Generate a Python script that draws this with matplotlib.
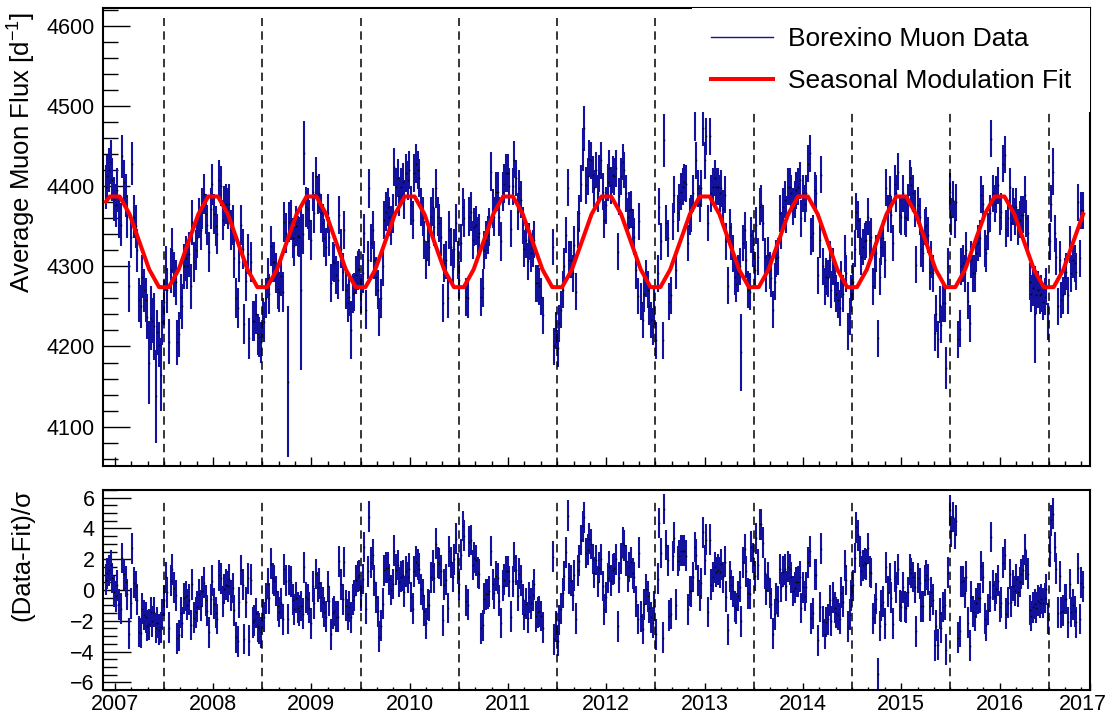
import numpy as np
import matplotlib
matplotlib.use("Agg")
import matplotlib.pyplot as plt
import matplotlib.transforms as mtransforms
from matplotlib.lines import Line2D
from matplotlib.ticker import MultipleLocator, FixedLocator

# ---------------- data ----------------
flux_2007_2008 = [
    4399, 4412, 4420, 4430, 4408, 4384, 4376, 4395, 4362, 4352,
    4437, 4405, 4388, 4362, 4275, 4337, 4428, 4362, 4350, 4320,
    4258, 4250, 4287, 4270, 4258, 4237, 4180, 4235, 4232, 4225,
    4138, 4218, 4202, 4165, 4230, 4255, 4297, 4270, 4206, 4295,
    4320, 4290, 4280, 4205, 4215, 4262, 4250, 4300, 4310, 4300,
    4315, 4275, 4355, 4305, 4320, 4335, 4360, 4345, 4372, 4390,
    4365, 4352, 4318, 4372, 4402, 4365, 4350, 4340, 4408, 4400,
    4358, 4375, 4378, 4372, 4378, 4345, 4352, 4310, 4260, 4248,
    4305, 4352, 4322, 4228, 4282, 4315, 4210, 4305, 4232, 4232,
    4240, 4215, 4212, 4205, 4235, 4230, 4260, 4285, 4265, 4325,
    4305, 4305, 4292, 4272, 4268, 4288, 4268, 4355, 4342, 4156,
    4355, 4358, 4335, 4325, 4350, 4338]
flux_2009_2010 = [
    4337, 4271, 4340, 4441, 4374, 4372, 4358, 4333, 4393, 4366,
    4412, 4389, 4391, 4366, 4354, 4335, 4324, 4366, 4337, 4279,
    4306, 4304, 4289, 4283, 4364, 4322, 4293, 4345, 4271, 4254,
    4262, 4221, 4266, 4268, 4289, 4295, 4297, 4266, 4291, 4341,
    4246, 4308, 4397, 4329, 4345, 4308, 4287, 4271, 4237, 4260,
    4300, 4358, 4368, 4374, 4362, 4351, 4366, 4424, 4399, 4410,
    4387, 4399, 4405, 4383, 4416, 4407, 4420, 4376, 4358, 4416,
    4428, 4420, 4410, 4374, 4362, 4333, 4308, 4331, 4324, 4362,
    4374, 4349, 4397, 4362, 4354, 4337, 4254, 4304, 4308, 4260,
    4345, 4324, 4297, 4322, 4354, 4308, 4283, 4329, 4374, 4360,
    4262, 4260, 4362, 4368, 4333, 4349, 4351, 4337, 4341, 4262,
    4273, 4320, 4333, 4339, 4349, 4418, 4372]
flux_2011_2012 = [
    4362, 4393, 4393, 4362, 4331, 4393, 4403, 4416, 4416, 4400,
    4347, 4400, 4433, 4410, 4368, 4397, 4383, 4351, 4322, 4333,
    4306, 4331, 4316, 4322, 4333, 4279, 4279, 4275, 4262, 4239,
    np.nan, np.nan, np.nan, np.nan, np.nan, 4324, 4200, 4220, 4198, 4229,
    4246, 4271, 4300, 4339, 4398, 4308, 4308, 4291, 4327, 4268,
    4346, 4366, 4403, 4446, 4472, 4401, 4412, 4434, 4432, 4414,
    4397, 4420, 4391, 4416, 4432, 4393, 4358, 4376, 4405, 4422,
    4401, 4414, 4412, 4422, 4318, 4387, 4412, 4430, 4420, 4391,
    4362, 4370, 4371, 4349, 4337, 4295, 4263, 4356, 4256, 4233,
    4266, 4285, 4271, 4250, 4233, 4225, 4250, 4208, 4291, 4374,
    4331, 4208, 4457, 4354, 4335, 4256, 4264, 4356, 4389, 4295,
    4366, 4380, 4393, 4399, 4405, 4403, 4329]
flux_2013_2014 = [
    4362, 4366, 4391, 4501, 4432, 4397, 4378, 4397, 4473, 4432,
    4462, 4354, 4462, 4391, 4399, 4410, 4399, 4399, 4391, 4397,
    4372, 4389, 4331, 4276, 4349, 4331, 4316, 4287, 4278, 4291,
    4300, 4193, 4329, 4345, 4308, 4271, 4268, 4339, 4322, 4295,
    4351, 4312, 4374, 4378, 4354, 4312, 4291, 4314, 4295, 4285,
    4246, 4281, 4310, 4312, 4366, 4345, 4374, 4383, 4364, 4399,
    4399, 4391, 4374, 4383, 4395, 4399, 4407, 4360, 4391, 4378,
    4391, 4428, 4441, 4337, 4341, 4395, 4391, 4289, 4333, 4414,
    4300, 4275, 4287, 4285, 4308, 4271, 4300, 4279, 4266, 4258,
    4248, 4283, 4266, 4316, 4291, 4219, 4237, 4266, 4281, 4322,
    4368, 4358, 4337, 4312, 4324, 4331, 4333, 4362, 4333, 4337,
    4275, 4295, 4316, 4210, 4287, 4324, 4335]
flux_2015_2016 = [
    4308, 4398, 4366, 4389, 4364, 4329, 4403, 4391, 4418, 4364,
    4362, 4391, 4362, 4360, 4380, 4410, 4401, 4391, 4372, 4302,
    4376, 4362, 4322, 4316, 4349, 4351, 4339, 4293, 4308, 4291,
    4217, 4241, 4209, 4252, 4227, 4254, 4254, 4173, 4300, 4393,
    4362, 4383, 4358, 4380, 4209, 4222, 4300, 4304, 4291, 4320,
    4257, 4229, 4308, 4291, 4291, 4316, 4329, 4335, 4389, 4378,
    4322, 4316, 4343, 4366, 4459, 4391, 4378, 4389, 4401, 4362,
    4368, 4428, 4439, 4347, 4360, 4399, 4354, 4374, 4362, 4374,
    4349, 4358, 4364, 4364, 4389, 4360, 4341, 4281, 4266, 4273,
    4240, 4264, 4271, 4264, 4266, 4256, 4262, 4275, 4231, 4331,
    4378, 4418, 4341, 4312, 4250, 4308, 4258, 4264, 4287, 4293,
    4264, 4327, 4291, 4308, 4304, 4293, 4380, 4310, 4370, 4370]

T_FIRST, T_LAST = 2006.908, 2016.850          # first / last measurement (year)

# typical error-bar half length per period, plus individual long bars
ERR_EDGES = [2006.80, 2007.30, 2007.80, 2009.00, 2011.00, 2017.50]
ERR_LEVELS = [27, 28, 25, 24, 23]
LONG_ERR_INDEX = [14, 26, 27, 29, 30, 33, 109, 117, 119, 147, 286, 287, 335, 353, 381, 504, 557, 568]
LONG_ERR_VALUE = [32, 52, 40, 42, 58, 45, 94, 100, 40, 36, 27, 28, 33, 45, 48, 26, 60, 29]

# seasonal modulation fit, evaluated as a polyline (ROOT TF1 style)
FIT_T0, FIT_STEP = 2006.95, 0.1
FIT_CYCLE = [4387, 4387, 4365, 4330.5, 4296, 4274, 4274, 4296, 4330.5, 4365]
FIT_START = (2006.91, 4380.6)

DASH_YEARS = [2007.5, 2008.5, 2009.5, 2010.5, 2011.5, 2012.5, 2013.5, 2014.5, 2015.5, 2016.5]
YEAR_TICKS = [2007, 2008, 2009, 2010, 2011, 2012, 2013, 2014, 2015, 2016]
YEAR_LABELS = ["2007", "2008", "2009", "2010", "2011", "2012", "2013", "2014", "2015", "2016", "2017"]

# ---------------- assemble ----------------
flux = np.array(flux_2007_2008 + flux_2009_2010 + flux_2011_2012 + flux_2013_2014 + flux_2015_2016, dtype=float)
t = np.linspace(T_FIRST, T_LAST, len(flux))
err = np.array(ERR_LEVELS, dtype=float)[np.searchsorted(ERR_EDGES, t, side="right") - 1]
err[LONG_ERR_INDEX] = LONG_ERR_VALUE

fit_vals = [FIT_START[1]] + FIT_CYCLE * 10
fit_t = np.concatenate([[FIT_START[0]], FIT_T0 + FIT_STEP * np.arange(len(fit_vals) - 1)])
fit_at_t = np.interp(t, fit_t, fit_vals)
resid = (flux - fit_at_t) / err

# ---------------- style ----------------
plt.rcParams["font.family"] = ["Liberation Sans", "DejaVu Sans"]
plt.rcParams["mathtext.fontset"] = "custom"
plt.rcParams["mathtext.rm"] = "Liberation Sans"
plt.rcParams["mathtext.it"] = "Liberation Sans:italic"
plt.rcParams["mathtext.default"] = "regular"

BLUE = "#12129e"
W, H = 1115, 713
XMIN, XMAX = 2006.88, 2016.92
fig = plt.figure(figsize=(W / 100, H / 100), dpi=100)
ax1 = fig.add_axes([103 / W, 1 - 466 / H, 987 / W, 458 / H])
ax2 = fig.add_axes([103 / W, 1 - 690 / H, 987 / W, 200 / H])

Y1 = (4051, 4622)
Y2 = (-6.5, 6.5)

# top panel
ax1.errorbar(t, flux, yerr=err, fmt="none", ecolor=BLUE, elinewidth=1.5, capsize=0, zorder=2)
ax1.plot(t, flux, "s", ms=1.1, color="black", mec="none", zorder=2.5)
ax1.vlines(DASH_YEARS, Y1[0], 4610, colors="black", linestyles=(0, (5.5, 3.5)), lw=1.1, zorder=3)
ax1.plot(fit_t, fit_vals, color="red", lw=2.9, zorder=4)

# bottom panel
ax2.errorbar(t, resid, yerr=1.0, fmt="none", ecolor=BLUE, elinewidth=1.5, capsize=0, zorder=2)
ax2.plot(t, resid, "s", ms=1.1, color="black", mec="none", zorder=2.5)
ax2.vlines(DASH_YEARS, Y2[0], 6.0, colors="black", linestyles=(0, (5.5, 3.5)), lw=1.1, zorder=3)

for ax in (ax1, ax2):
    ax.set_xlim(XMIN, XMAX)
    for s in ax.spines.values():
        s.set_linewidth(1.5)
    ax.xaxis.set_minor_locator(MultipleLocator(1 / 6))

ax1.set_ylim(*Y1)
ax1.xaxis.set_major_locator(FixedLocator(YEAR_TICKS))
ax1.yaxis.set_major_locator(MultipleLocator(100))
ax1.yaxis.set_minor_locator(MultipleLocator(20))
ax1.tick_params(axis="y", which="major", direction="in", length=19.5, width=1.0, labelsize=15.5, pad=6)
ax1.tick_params(axis="y", which="minor", direction="in", length=10.5, width=1.0)
ax1.tick_params(axis="x", which="major", direction="in", length=6.5, width=1.0, labelbottom=False)
ax1.tick_params(axis="x", which="minor", direction="in", length=3.6, width=1.0)

ax2.set_ylim(*Y2)
ax2.set_xticks(YEAR_TICKS + [XMAX])
ax2.set_xticklabels(YEAR_LABELS)
ax2.yaxis.set_major_locator(MultipleLocator(2))
ax2.yaxis.set_minor_locator(MultipleLocator(0.5))
ax2.tick_params(axis="y", which="major", direction="in", length=20, width=1.0, labelsize=15.5, pad=6)
ax2.tick_params(axis="y", which="minor", direction="in", length=10, width=1.0)
ax2.tick_params(axis="x", which="major", direction="in", length=5, width=1.0, labelsize=15.5, pad=3)
ax2.tick_params(axis="x", which="minor", direction="in", length=2.5, width=1.0)
# the last year label sits just inside the figure edge
last = ax2.get_xticklabels()[-1]
last.set_transform(last.get_transform() + mtransforms.ScaledTranslation(-7 / 100, 0, fig.dpi_scale_trans))

fig.text(22 / W, 1 - 12 / H, r"Average Muon Flux [d$^{-1}$]", rotation=90, ha="center", va="top", fontsize=18.5)
fig.text(22 / W, 1 - 489 / H, "(Data-Fit)/σ", rotation=90, ha="center", va="top", fontsize=18.5)

handles = [Line2D([], [], color=BLUE, lw=1.0), Line2D([], [], color="red", lw=2.9)]
leg = ax1.legend(handles, ["Borexino Muon Data", "Seasonal Modulation Fit"], loc="upper right",
                 bbox_to_anchor=(1, 1), borderaxespad=0, fontsize=19, frameon=True, fancybox=False,
                 edgecolor="none", facecolor="white", framealpha=1, handlelength=2.35,
                 handletextpad=0.57, labelspacing=0.68, borderpad=0.72)
leg.set_zorder(10)

fig.savefig("out.png", dpi=100)
